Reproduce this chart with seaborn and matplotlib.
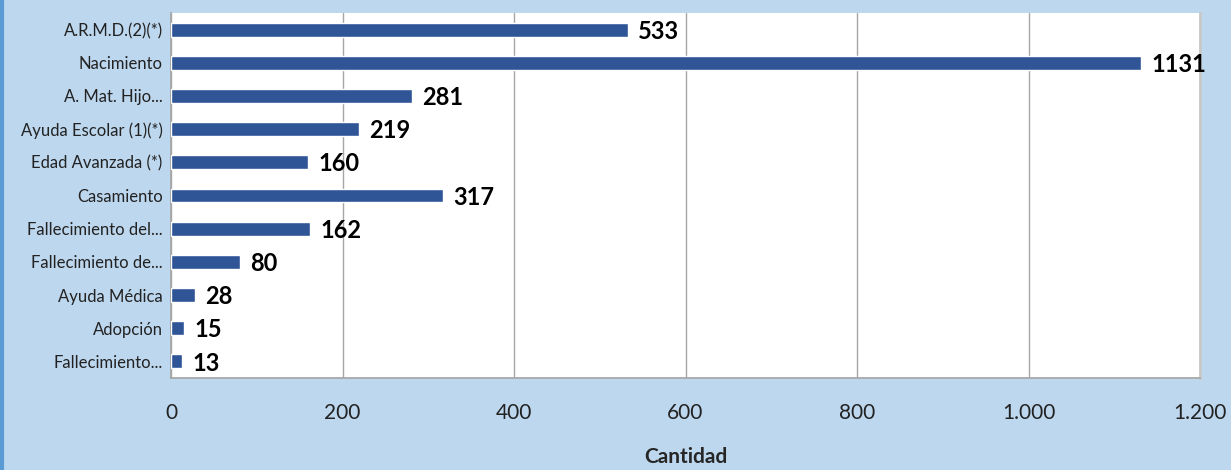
import matplotlib
matplotlib.use("Agg")
import matplotlib.pyplot as plt
import matplotlib.ticker as mticker
from matplotlib.lines import Line2D
import seaborn as sns
import pandas as pd

categorias = [
    "A.R.M.D.(2)(*)",
    "Nacimiento",
    "A. Mat. Hijo...",
    "Ayuda Escolar (1)(*)",
    "Edad Avanzada (*)",
    "Casamiento",
    "Fallecimiento del...",
    "Fallecimiento de...",
    "Ayuda Médica",
    "Adopción",
    "Fallecimiento...",
]
cantidades = [533, 1131, 281, 219, 160, 317, 162, 80, 28, 15, 13]
ticks_x = [0, 200, 400, 600, 800, 1000, 1200]

BG = "#BDD7EE"
BAR = "#2F5597"

sns.set_theme(style="white")
plt.rcParams["font.family"] = ["Lato", "DejaVu Sans"]

df = pd.DataFrame({"categoria": categorias, "cantidad": cantidades})

fig = plt.figure(figsize=(12.31, 4.70), dpi=100)
fig.patch.set_facecolor(BG)
ax = fig.add_axes([0.1389, 0.1957, 0.836, 0.7766])
ax.set_facecolor("white")

sns.barplot(data=df, x="cantidad", y="categoria", orient="h",
            color=BAR, width=0.42, saturation=1, ax=ax, zorder=3)

ax.set_xlim(0, 1200)
ax.set_ylim(len(categorias) - 0.5, -0.5)
ax.set_xticks(ticks_x)
ax.xaxis.set_major_formatter(
    mticker.FuncFormatter(lambda v, p: f"{int(v):,}".replace(",", ".")))
ax.grid(axis="x", color="#A6A6A6", linewidth=1, zorder=0)
ax.grid(axis="y", visible=False)

for i, v in enumerate(cantidades):
    ax.text(v + 12, i + 0.05, str(v), va="center", ha="left",
            fontsize=17, fontweight="bold", color="black", zorder=4)

ax.tick_params(axis="y", length=0, pad=6, labelsize=12, labelcolor="#222222")
ax.tick_params(axis="x", length=0, pad=18, labelsize=15, labelcolor="#222222")
ax.set_ylabel("")
ax.set_xlabel("Cantidad", fontsize=15, fontweight="bold", labelpad=17)

ax.spines["top"].set_visible(False)
ax.spines["left"].set_color("#A6A6A6")
ax.spines["bottom"].set_color("#A6A6A6")
ax.spines["right"].set_color("#C8C8C8")
ax.spines["right"].set_linewidth(2)

fig.add_artist(Line2D([0.002, 0.002], [0, 1], transform=fig.transFigure,
                      color="#5B9BD5", linewidth=3))

fig.savefig("out.png", dpi=100, facecolor=BG)
